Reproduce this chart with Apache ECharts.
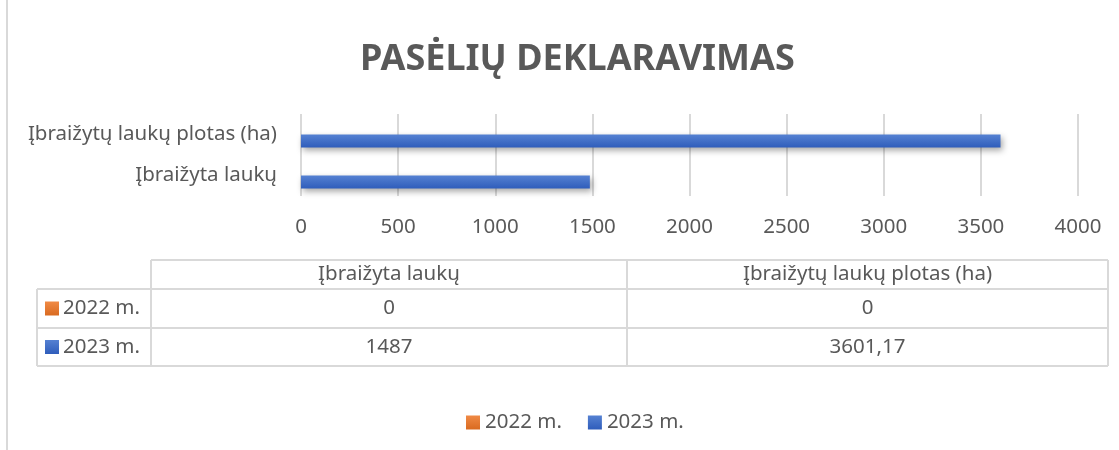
<!DOCTYPE html>
<html><head><meta charset="utf-8">
<script src="https://cdn.jsdelivr.net/npm/echarts@6/dist/echarts.min.js"></script>
<style>html,body{margin:0;padding:0;background:#fff}#c{width:1119px;height:450px}</style>
</head><body><div id="c"></div>
<script>
const titleText = 'PASĖLIŲ DEKLARAVIMAS';
const categories = ['Įbraižyta laukų', 'Įbraižytų laukų plotas (ha)'];
const seriesNames = ['2022 m.', '2023 m.'];
const values2022 = [0, 0];
const values2023 = [1487, 3601.17];
const xTicks = [0, 500, 1000, 1500, 2000, 2500, 3000, 3500, 4000];

const FONT = 'Noto Sans';
const FS = 20.5;
const TXT = '#595959';
const LINE = '#d9d9d9';
const grads = [
  new echarts.graphic.LinearGradient(0,0,0,1,[{offset:0,color:'#F08A45'},{offset:1,color:'#D96A20'}]),
  new echarts.graphic.LinearGradient(0,0,0,1,[{offset:0,color:'#5581D2'},{offset:1,color:'#2F5DBB'}])
];
const allValues = [values2022, values2023];
const fmt = v => String(v).replace('.', ',');
const font = FS + 'px "' + FONT + '"';

// data table layout
const tX = [37, 151, 627, 1108];
const tY = [260, 289, 328, 366];
const g = [];
g.push({type:'line', shape:{x1:7,y1:0,x2:7,y2:450}, style:{stroke:LINE,lineWidth:2}});
g.push({type:'line', shape:{x1:tX[1],y1:tY[0],x2:tX[3],y2:tY[0]}, style:{stroke:LINE,lineWidth:2}});
for (let r = 1; r < tY.length; r++) {
  g.push({type:'line', shape:{x1:tX[0],y1:tY[r],x2:tX[3],y2:tY[r]}, style:{stroke:LINE,lineWidth:2}});
}
g.push({type:'line', shape:{x1:tX[0],y1:tY[1],x2:tX[0],y2:tY[3]}, style:{stroke:LINE,lineWidth:2}});
for (let c = 1; c < tX.length; c++) {
  g.push({type:'line', shape:{x1:tX[c],y1:tY[0],x2:tX[c],y2:tY[3]}, style:{stroke:LINE,lineWidth:2}});
}
categories.forEach((cat, i) => {
  g.push({type:'text', x:(tX[i+1]+tX[i+2])/2, y:(tY[0]+tY[1])/2,
    style:{text:cat, fill:TXT, font:font, align:'center', verticalAlign:'middle'}});
});
seriesNames.forEach((s, r) => {
  const cy = (tY[r+1]+tY[r+2])/2;
  g.push({type:'rect', shape:{x:45, y:cy-7, width:14, height:14}, style:{fill:grads[r]}});
  g.push({type:'text', x:63, y:cy, style:{text:s, fill:TXT, font:font, align:'left', verticalAlign:'middle'}});
  allValues[r].forEach((v, i) => {
    g.push({type:'text', x:(tX[i+1]+tX[i+2])/2, y:cy,
      style:{text:fmt(v), fill:TXT, font:font, align:'center', verticalAlign:'middle'}});
  });
});

const chart = echarts.init(document.getElementById('c'));
chart.setOption({
  animation:false,
  title:{text:titleText, left:355, top:37, textStyle:{fontFamily:FONT, fontSize:36, fontWeight:'bold', color:TXT}},
  legend:{data:seriesNames, bottom:12, left:461, icon:'rect', itemWidth:14, itemHeight:14, itemGap:26,
    textStyle:{fontFamily:FONT, fontSize:FS, color:TXT}},
  grid:{left:301, right:41, top:114, bottom:254, containLabel:false},
  xAxis:{type:'value', min:xTicks[0], max:xTicks[xTicks.length-1], interval:500,
    axisLine:{show:false}, axisTick:{show:false},
    axisLabel:{fontFamily:FONT, fontSize:FS, color:TXT, margin:21, formatter:v => String(v)},
    splitLine:{lineStyle:{color:LINE, width:2}}},
  yAxis:{type:'category', data:categories, axisLine:{show:false}, axisTick:{show:false},
    axisLabel:{fontFamily:FONT, fontSize:FS, color:TXT, margin:24}},
  series: seriesNames.map((n, i) => ({
    name:n, type:'bar', data:allValues[i], barWidth:13, barGap:'0%',
    itemStyle:{color:grads[i], shadowColor:'rgba(0,0,0,0.35)', shadowBlur:6, shadowOffsetX:2, shadowOffsetY:3}
  })),
  graphic:g
});
</script></body></html>
